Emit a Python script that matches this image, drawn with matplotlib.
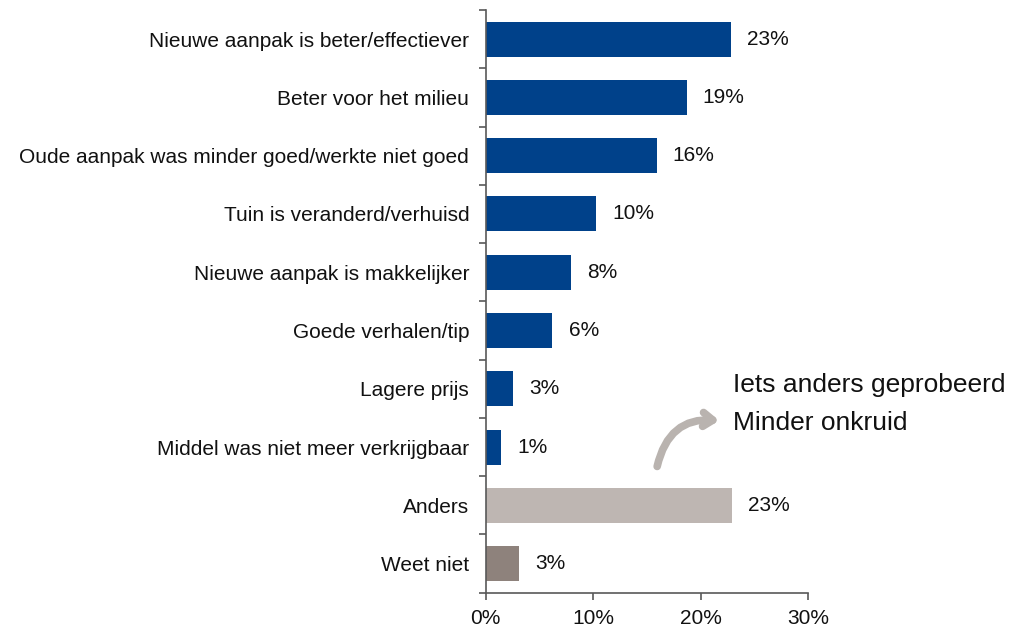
import matplotlib
matplotlib.use("Agg")
import matplotlib.pyplot as plt

# Data
categories = [
    "Nieuwe aanpak is beter/effectiever",
    "Beter voor het milieu",
    "Oude aanpak was minder goed/werkte niet goed",
    "Tuin is veranderd/verhuisd",
    "Nieuwe aanpak is makkelijker",
    "Goede verhalen/tip",
    "Lagere prijs",
    "Middel was niet meer verkrijgbaar",
    "Anders",
    "Weet niet",
]
values = [22.8, 18.7, 15.9, 10.3, 7.9, 6.2, 2.5, 1.4, 22.9, 3.1]
value_labels = ["23%", "19%", "16%", "10%", "8%", "6%", "3%", "1%", "23%", "3%"]
other_answers = ["Iets anders geprobeerd", "Minder onkruid"]

navy = "#00418A"
colors = [navy] * 8 + ["#BEB6B2", "#8E827C"]

plt.rcParams["font.family"] = ["Liberation Sans", "DejaVu Sans"]

fig = plt.figure(figsize=(10.1, 6.29), dpi=100)
ax = fig.add_axes([0.481, 0.0577, 0.319, 0.9264])

ypos = list(range(len(categories)))
ax.barh(ypos, values, height=0.6, color=colors)
ax.set_ylim(len(categories) - 0.5, -0.5)
ax.set_xlim(0, 30)

# value labels
for y, v, lab in zip(ypos, values, value_labels):
    ax.text(v + 1.5, y, lab, va="center", ha="left", fontsize=15, color="#111111")

# axes styling
for side in ["top", "right"]:
    ax.spines[side].set_visible(False)
for side in ["left", "bottom"]:
    ax.spines[side].set_color("#595959")
    ax.spines[side].set_linewidth(1.2)

ax.set_xticks([0, 10, 20, 30])
ax.set_xticklabels(["0%", "10%", "20%", "30%"])
ax.tick_params(axis="x", length=5, color="#595959", width=1.2, labelsize=15,
               labelcolor="#111111", pad=7)

# category labels on centres, tick marks on boundaries
ax.set_yticks(ypos)
ax.set_yticklabels(categories)
ax.tick_params(axis="y", which="major", length=0, labelsize=15,
               labelcolor="#111111", pad=12)
ax.set_yticks([y - 0.5 for y in ypos] + [len(ypos) - 0.5], minor=True)
ax.tick_params(axis="y", which="minor", length=5, color="#595959", width=1.2)

# callout for "Anders"
ax.annotate("", xy=(22.0, 6.55), xytext=(15.9, 7.38),
            arrowprops=dict(arrowstyle="->,head_length=0.7,head_width=0.5",
                            connectionstyle="arc3,rad=-0.45",
                            color="#B9B3AF", lw=5.5, capstyle="round"),
            annotation_clip=False)
ax.text(23.0, 5.93, other_answers[0], va="center", ha="left", fontsize=19,
        color="#111111", clip_on=False)
ax.text(23.0, 6.58, other_answers[1], va="center", ha="left", fontsize=19,
        color="#111111", clip_on=False)

fig.savefig("out.png", dpi=100)
